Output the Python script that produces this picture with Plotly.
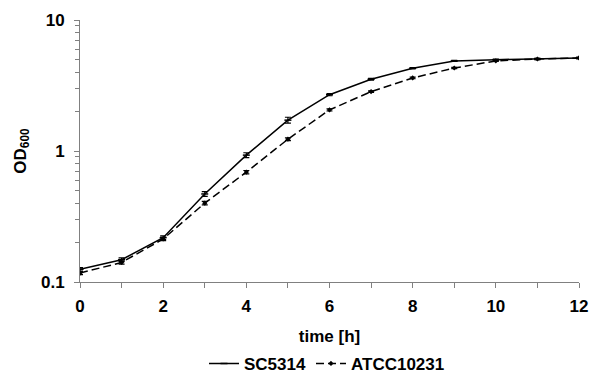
import plotly.graph_objects as go

time_h = [0, 1, 2, 3, 4, 5, 6, 7, 8, 9, 10, 11, 12]
sc5314 = [0.125, 0.148, 0.218, 0.47, 0.93, 1.72, 2.69, 3.53, 4.28, 4.87, 4.98, 5.04, 5.13]
sc5314_err = [0.004, 0.005, 0.007, 0.02, 0.04, 0.09, 0.05, 0.05, 0.05, 0.05, 0.05, 0.05, 0.05]
atcc10231 = [0.117, 0.141, 0.213, 0.40, 0.69, 1.23, 2.06, 2.84, 3.61, 4.30, 4.87, 5.04, 5.13]
atcc10231_err = [0.003, 0.004, 0.006, 0.012, 0.02, 0.03, 0.04, 0.04, 0.05, 0.05, 0.05, 0.05, 0.05]

font_family = "Liberation Sans, Arial, sans-serif"
fs = 17

fig = go.Figure()
fig.add_trace(go.Scatter(
    x=time_h, y=sc5314, name="SC5314", mode="lines+markers",
    line=dict(color="black", width=1.5),
    marker=dict(symbol="line-ew", size=5, color="black", line=dict(width=1.5, color="black")),
    error_y=dict(type="data", array=sc5314_err, color="black", thickness=1.2, width=3),
))
fig.add_trace(go.Scatter(
    x=time_h, y=atcc10231, name="ATCC10231", mode="lines+markers",
    line=dict(color="black", width=1.5, dash="8px,4px"),
    marker=dict(symbol="diamond", size=4, color="black"),
    error_y=dict(type="data", array=atcc10231_err, color="black", thickness=1.2, width=3),
))

fig.update_layout(
    width=600, height=385,
    margin=dict(l=80, r=21, t=20, b=103),
    paper_bgcolor="white", plot_bgcolor="white",
    font=dict(family=font_family, color="black"),
    showlegend=True,
    legend=dict(orientation="h", xref="container", yref="container",
                x=0.545, xanchor="center", y=0.055, yanchor="middle",
                font=dict(size=fs, family=font_family, weight="bold"),
                itemwidth=30, tracegroupgap=0),
)
fig.update_xaxes(
    range=[0, 12], dtick=2, tick0=0, automargin=False,
    showgrid=False, zeroline=False,
    showline=True, linecolor="#808080", linewidth=1,
    ticks="outside", ticklen=5, tickcolor="#808080",
    minor=dict(dtick=1, ticks="outside", ticklen=5, tickcolor="#808080"),
    tickfont=dict(size=fs, family=font_family, weight="bold"),
    ticklabelstandoff=4,
    title=dict(text="time [h]", font=dict(size=fs, family=font_family, weight="bold"), standoff=22),
)
fig.update_yaxes(
    type="log", range=[-1, 1], automargin=False,
    tickvals=[0.1, 1, 10], ticktext=["0.1", "1", "10"],
    showgrid=False, zeroline=False,
    showline=True, linecolor="#808080", linewidth=1,
    ticks="outside", ticklen=5, tickcolor="#808080",
    minor=dict(tickvals=[0.2, 0.3, 0.4, 0.5, 0.6, 0.7, 0.8, 0.9, 2, 3, 4, 5, 6, 7, 8, 9],
               ticks="outside", ticklen=4, tickcolor="#808080", showgrid=False),
    tickfont=dict(size=fs, family=font_family, weight="bold"),
    ticklabelstandoff=6,
    title=dict(text="OD<sub>600</sub>", font=dict(size=fs, family=font_family, weight="bold"), standoff=10),
)

fig.write_html("out.html", config={"displayModeBar": False},
               post_script="document.body.style.margin='0px';document.body.style.overflow='hidden';")
